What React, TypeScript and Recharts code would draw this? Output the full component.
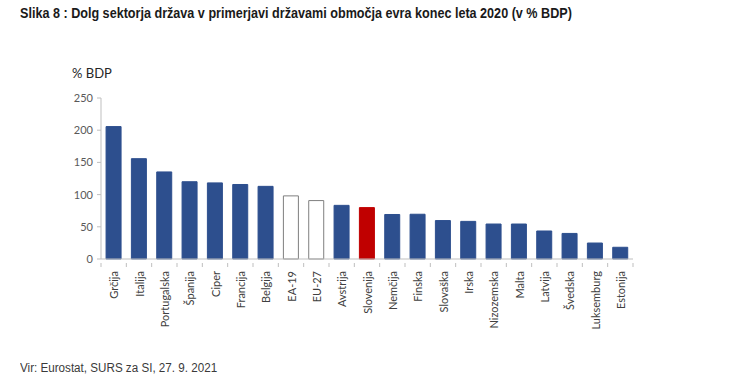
import React from 'react';
import { BarChart, Bar, XAxis, YAxis, Cell } from 'recharts';

const categories = ['Grčija','Italija','Portugalska','Španija','Ciper','Francija','Belgija','EA-19','EU-27','Avstrija','Slovenija','Nemčija','Finska','Slovaška','Irska','Nizozemska','Malta','Latvija','Švedska','Luksemburg','Estonija'];
const debt = [205.6,155.8,135.2,120.0,118.2,115.7,112.8,98.0,90.7,83.3,79.8,69.1,69.5,59.7,58.4,54.3,54.3,43.5,39.7,24.8,18.2];
const kinds = ['c','c','c','c','c','c','c','agg','agg','c','si','c','c','c','c','c','c','c','c','c','c'];
const yTicks = [0,50,100,150,200,250];

const data = categories.map((name, i) => ({ name, value: debt[i], kind: kinds[i] }));

const fill = (k: string) => (k === 'si' ? '#C00000' : k === 'agg' ? '#FFFFFF' : '#2D4F8E');
const stroke = (k: string) => (k === 'si' ? '#C00000' : k === 'agg' ? '#7F7F7F' : '#2D4F8E');

const PLOT_LEFT = 101;
const PLOT_RIGHT = 633;
const BAND = (PLOT_RIGHT - PLOT_LEFT) / categories.length;

const XTick = (props: any) => {
  const { x, y, payload, index } = props;
  return (
    <g>
      <line x1={x - BAND / 2} x2={x - BAND / 2} y1={y - 8} y2={y - 4} stroke="#BFBFBF" />
      {index === categories.length - 1 && (
        <line x1={x + BAND / 2} x2={x + BAND / 2} y1={y - 8} y2={y - 4} stroke="#BFBFBF" />
      )}
      <text
        x={x}
        y={y}
        transform={`rotate(-90, ${x}, ${y})`}
        textAnchor="end"
        dominantBaseline="central"
        fontSize={11}
        fontFamily="Lato, 'Open Sans', sans-serif"
        fill="#404040"
      >
        {payload.value}
      </text>
    </g>
  );
};

export default function App() {
  return (
    <div style={{ position: 'absolute', left: 0, top: 0, width: 736, height: 381, background: '#fff', overflow: 'hidden' }}>
      <div style={{ position: 'absolute', left: 20, top: 4, fontFamily: "'Liberation Sans', Arial, sans-serif", fontWeight: 'bold', fontSize: 15, color: '#1a1a1a', whiteSpace: 'nowrap', transform: 'scaleX(0.84)', transformOrigin: 'left top' }}>
        Slika 8 : Dolg sektorja država v primerjavi državami območja evra konec leta 2020 (v % BDP)
      </div>
      <div style={{ position: 'absolute', left: 72, top: 65, fontFamily: "Lato, 'Open Sans', sans-serif", fontSize: 13, color: '#262626', whiteSpace: 'nowrap' }}>
        % BDP
      </div>
      <div style={{ position: 'absolute', left: 20, top: 361, fontFamily: "'Liberation Sans', Arial, sans-serif", fontSize: 12, color: '#3a3a3a', whiteSpace: 'nowrap', transform: 'scaleX(0.97)', transformOrigin: 'left top' }}>
        Vir: Eurostat, SURS za SI, 27. 9. 2021
      </div>
      <div style={{ position: 'absolute', left: 0, top: 0 }}>
        <BarChart
          width={736}
          height={381}
          data={data}
          margin={{ top: 98, right: 736 - PLOT_RIGHT, bottom: 42, left: PLOT_LEFT - 40 }}
          barCategoryGap="20%"
        >
          <XAxis
            dataKey="name"
            interval={0}
            height={80}
            axisLine={{ stroke: '#BFBFBF' }}
            tickLine={false}
            tick={<XTick />}
            tickMargin={6}
          />
          <YAxis
            width={40}
            domain={[0, 250]}
            ticks={yTicks}
            interval={0}
            axisLine={{ stroke: '#BFBFBF' }}
            tickLine={{ stroke: '#BFBFBF' }}
            tickSize={4}
            tickMargin={4}
            tick={{ fontSize: 11, fill: '#595959', fontFamily: "Lato, 'Open Sans', sans-serif" }}
          />
          <Bar dataKey="value" isAnimationActive={false}>
            {data.map((d, i) => (
              <Cell key={i} fill={fill(d.kind)} stroke={stroke(d.kind)} strokeWidth={1} />
            ))}
          </Bar>
        </BarChart>
      </div>
    </div>
  );
}
